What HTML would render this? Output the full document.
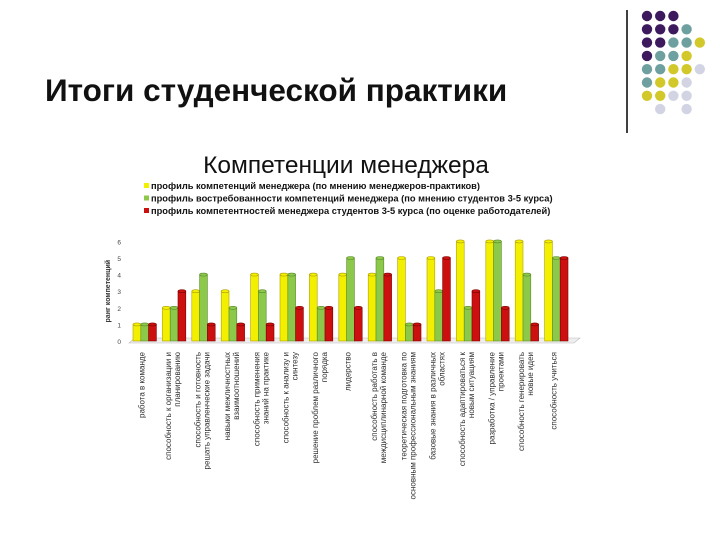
<!DOCTYPE html>
<html><head><meta charset="utf-8"><style>
body{margin:0;background:#fff;width:720px;height:540px;overflow:hidden;font-family:"Liberation Sans",sans-serif}
</style></head><body>
<svg width="720" height="540">
<text x="45" y="101" font-size="31.5" font-weight="bold" fill="#111" font-family="Liberation Sans, sans-serif">Итоги студенческой практики</text>
<line x1="627" y1="10" x2="627" y2="133" stroke="#000" stroke-width="1.5"/>
<g id="dots"></g>
<text x="346" y="173" text-anchor="middle" font-size="24.5" fill="#111">Компетенции менеджера</text>
<g id="legend"></g>
<g id="chart"></g>
</svg>
<script>
const categories=["работа в команде","способность к организации и планированию","способность и готовность решать управленческие задачи","навыки межличностных взаимоотношений","способность применения знаний на практике","способность к анализу и синтезу","решение проблем различного порядка","лидерство","способность работать в междисциплинарной команде","теоретическая подготовка по основным профессиональным знаниям","базовые знания в различных областях","способность адаптироваться к новым ситуациям","разработка / управление проектами","способность генерировать новые идеи","способность учиться"];
const seriesYellow=[1,2,3,3,4,4,4,4,4,5,5,6,6,6,6];
const seriesGreen=[1,2,4,2,3,4,2,5,5,1,3,2,6,4,5];
const seriesRed=[1,3,1,1,1,2,2,2,4,1,5,3,2,1,5];
const yTicks=[0,1,2,3,4,5,6];
const legendLabels=["профиль компетенций менеджера (по мнению менеджеров-практиков)","профиль востребованности компетенций менеджера (по мнению студентов 3-5 курса)","профиль компетентностей менеджера студентов 3-5 курса (по оценке работодателей)"];
const NS="http://www.w3.org/2000/svg";
function mk(p,t,a){const e=document.createElementNS(NS,t);for(const k in a)e.setAttribute(k,a[k]);p.appendChild(e);return e;}
const dotRows=["PPP","PPPT","PPTTY","PTTY","TTYYL","TYYL","YYLL",".L.L"];
const dotCol={P:"#3d1a5e",T:"#6fa0a0",Y:"#d2c82a",L:"#d2d4e4"};
const dg=document.getElementById('dots');
dotRows.forEach((r,i)=>{[...r].forEach((c,j)=>{if(c==='.')return;
const d=mk(dg,'circle',{cx:647+j*13.2,cy:16+i*13.3,r:5.2,fill:dotCol[c]});

});});
const colors=["#f2f000","#8cc84a","#cc1010"];
const lg=document.getElementById('legend');
legendLabels.forEach((l,i)=>{const y=189+i*12.5;
const s=mk(lg,'rect',{x:144,y:y-6,width:5,height:5,fill:colors[i]});


const t=mk(lg,'text',{x:151,y:y,'font-size':9.3,fill:'#111','font-weight':'bold'});t.textContent=l;

});
const g=document.getElementById('chart');
const y0=341,unit=16.6,x0=131,cw=29.4,bw=7.8;
const ys=v=>y0-v*unit;
mk(g,'polygon',{points:`${x0-2},${y0+2} ${x0+cw*15+2},${y0+2} ${x0+cw*15+8},${y0-3} ${x0+4},${y0-3}`,fill:'#eee',stroke:'#bbb','stroke-width':0.6});
yTicks.forEach(v=>{const t=mk(g,'text',{x:121,y:ys(v)+3,'font-size':6.5,fill:'#444','text-anchor':'end'});t.textContent=v;

});
const yt=mk(g,'text',{x:0,y:0,'font-size':7,'font-weight':'bold',fill:'#333','text-anchor':'middle',transform:`translate(110,${ys(3)}) rotate(-90)`});yt.textContent='ранг компетенций';


const dark=["#b0a000","#5a8a2a","#800000"];
[seriesYellow,seriesGreen,seriesRed].forEach((ser,si)=>{ser.forEach((v,i)=>{
const x=x0+2+i*cw+si*bw, top=ys(v);
const b=mk(g,'rect',{x:x,y:top,width:bw,height:y0-top,fill:colors[si],stroke:dark[si],'stroke-width':0.6});


const e=mk(g,'ellipse',{cx:x+bw/2,cy:top,rx:bw/2,ry:1.5,fill:colors[si],stroke:dark[si],'stroke-width':0.6});

});});
categories.forEach((c,i)=>{const cx=x0+i*cw+cw/2-1;
const t=mk(g,'text',{x:0,y:0,'font-size':8,fill:'#333','text-anchor':'end',transform:`translate(${cx},352) rotate(-90)`});
const words=c.split(' ');let l1=c,l2='';
if(c.length>28){let a='';for(const w of words){if((a+' '+w).length>28&&a){break;}a=a?a+' '+w:w;}l1=a;l2=c.slice(a.length+1);}
if(l2){mk(t,'tspan',{x:0,dy:-3}).textContent=l1;mk(t,'tspan',{x:0,dy:9}).textContent=l2;}else t.textContent=l1;

});
</script>
</body></html>
